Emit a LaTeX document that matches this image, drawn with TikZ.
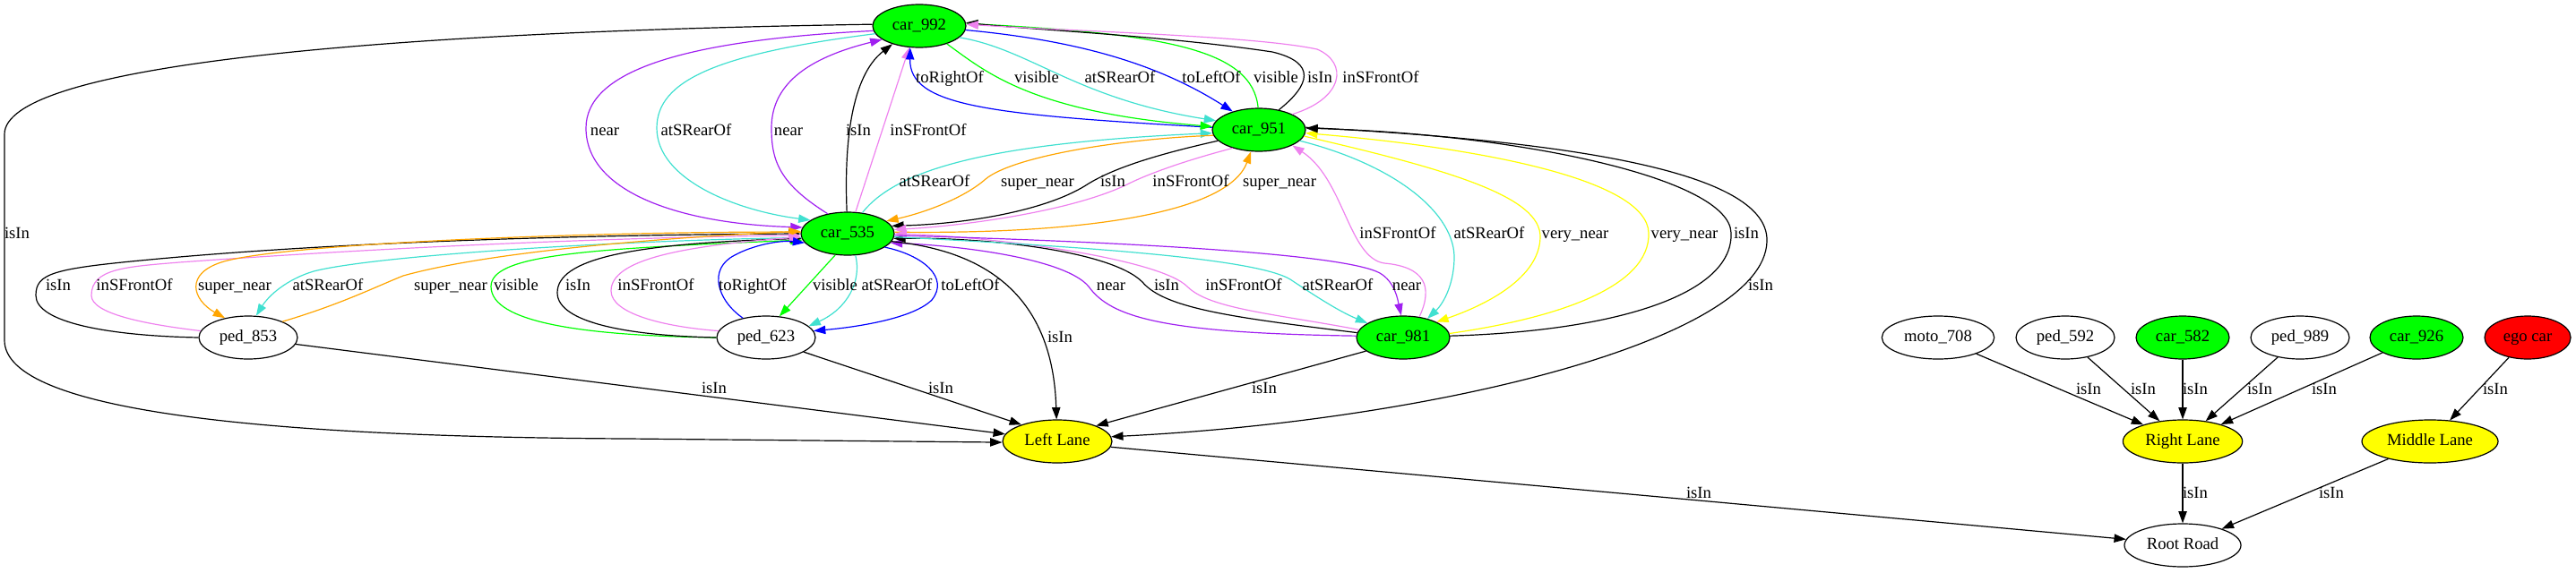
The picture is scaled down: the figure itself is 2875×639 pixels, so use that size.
\documentclass[tikz,border=0pt]{standalone}
\usepackage{fontspec}
\setmainfont{Liberation Serif}
\usetikzlibrary{arrows.meta,shapes.geometric}
\definecolor{gvpurple}{HTML}{A020F0}
\definecolor{gvturq}{HTML}{40E0D0}
\definecolor{gvviolet}{HTML}{EE82EE}
\definecolor{gvorange}{HTML}{FFA500}
\definecolor{gvblue}{HTML}{0000FF}
\definecolor{gvgreen}{HTML}{00FF00}
\definecolor{gvyellow}{HTML}{FFFF00}
\definecolor{gvred}{HTML}{FF0000}
\begin{document}
\begin{tikzpicture}[x=0.75pt,y=-0.75pt,
  nd/.style={ellipse,draw=black,line width=0.9pt,minimum height=36pt,inner sep=0pt,
    font=\fontsize{14}{16}\selectfont,text height=7pt,text depth=0pt},
  e/.style={line width=0.9pt,-{Triangle[length=10pt,width=7pt]}},
  lb/.style={inner sep=0pt,font=\fontsize{14}{16}\selectfont,text height=9pt,text depth=0pt},
  cp/.style={color=gvpurple},
  ct/.style={color=gvturq},
  cv/.style={color=gvviolet},
  co/.style={color=gvorange},
  cb/.style={color=gvblue},
  cg/.style={color=gvgreen},
  cy/.style={color=gvyellow},
  ck/.style={color=black}]
\useasboundingbox (0,0) rectangle (2875,639);

% nodes
\node[nd,fill=gvgreen,minimum width=78pt] (car992) at (1026,29) {car\_992};
\node[nd,fill=gvgreen,minimum width=78pt] (car951) at (1405,145) {car\_951};
\node[nd,fill=gvgreen,minimum width=78pt] (car535) at (946,261) {car\_535};
\node[nd,minimum width=82.5pt] (ped853) at (277,377) {ped\_853};
\node[nd,minimum width=82.5pt] (ped623) at (855,377) {ped\_623};
\node[nd,fill=gvgreen,minimum width=78pt] (car981) at (1566,377) {car\_981};
\node[nd,fill=gvyellow,minimum width=91.5pt] (leftlane) at (1180,493) {Left Lane};
\node[nd,minimum width=94pt] (moto708) at (2163,377) {moto\_708};
\node[nd,minimum width=82.5pt] (ped592) at (2305,377) {ped\_592};
\node[nd,fill=gvgreen,minimum width=78pt] (car582) at (2436,377) {car\_582};
\node[nd,minimum width=82.5pt] (ped989) at (2567,377) {ped\_989};
\node[nd,fill=gvgreen,minimum width=78pt] (car926) at (2697,377) {car\_926};
\node[nd,fill=gvred,minimum width=72pt] (egocar) at (2821,377) {ego car};
\node[nd,fill=gvyellow,minimum width=100pt] (rightlane) at (2436,493) {Right Lane};
\node[nd,fill=gvyellow,minimum width=114pt] (middlelane) at (2712,493) {Middle Lane};
\node[nd,minimum width=97.5pt] (rootroad) at (2436,609) {Root Road};

% big loop
\draw[e,ck] (car992.178) .. controls (400,36) and (5,75) .. (5,150) -- (5,380) .. controls (5,460) and (300,488) .. (700,490) -- (leftlane.181);

% car992 <-> car535
\draw[e,cp] (car992.186) .. controls (760,45) and (654,80) .. (654,143) .. controls (654,215) and (760,250) .. (car535.172);
\draw[e,ct] (car992.190) .. controls (800,60) and (733,90) .. (733,143) .. controls (733,200) and (820,235) .. (car535.160);
\draw[e,cp] (car535.135) .. controls (870,205) and (861,180) .. (861,143) .. controls (861,95) and (900,65) .. (car992.200);
\draw[e,ck] (car535.92) .. controls (942,160) and (950,85) .. (car992.214);
\draw[e,cv] (car535.70) -- (car992.245);

% car992 <-> car951
\draw[e,cb] (car951.177) .. controls (1100,128) and (1015,118) .. (car992.247);
\draw[e,cg] (car992.327) .. controls (1100,80) and (1150,125) .. (car951.176);
\draw[e,cb] (car992.355) .. controls (1200,45) and (1290,70) .. (car951.145);
\draw[e,cg] (car951.92) .. controls (1398,55) and (1300,38) .. (car992.3);
\draw[e,ck] (car951.45) .. controls (1462,95) and (1470,70) .. (1420,58) .. controls (1300,40) and (1150,33) .. (car992.4);
\draw[e,ct] (car992.344) .. controls (1150,55) and (1200,110) .. (car951.168);
\draw[e,cv] (car951.25) .. controls (1500,110) and (1505,70) .. (1470,55) .. controls (1400,40) and (1200,35) .. (car992.2);

% car951 <-> car535
\draw[e,ct] (car535.55) .. controls (1000,190) and (1100,160) .. (car951.184);
\draw[e,co] (car951.187) .. controls (1250,155) and (1130,175) .. (1100,200) .. controls (1075,222) and (1030,238) .. (car535.18);
\draw[e,ck] (car951.195) .. controls (1280,175) and (1240,190) .. (1215,205) .. controls (1170,235) and (1080,250) .. (car535.10);
\draw[e,cv] (car951.215) .. controls (1320,180) and (1280,195) .. (1260,205) .. controls (1200,235) and (1080,252) .. (car535.5);
\draw[e,co] (car535.2) .. controls (1200,262) and (1370,240) .. (car951.250);

% car951 <-> car981
\draw[e,cv] (car981.52) .. controls (1600,320) and (1590,298) .. (1545,294) .. controls (1505,288) and (1500,200) .. (car951.335);
\draw[e,ct] (car951.345) .. controls (1560,185) and (1625,240) .. (1623,290) .. controls (1622,320) and (1610,340) .. (car981.38);
\draw[e,cy] (car951.352) .. controls (1620,190) and (1720,220) .. (1719,265) .. controls (1718,310) and (1660,340) .. (car981.25);
\draw[e,cy] (car981.5) .. controls (1740,355) and (1842,320) .. (1840,260) .. controls (1838,200) and (1650,165) .. (car951.356);
\draw[e,ck] (car981.2) .. controls (1800,370) and (1935,330) .. (1932,260) .. controls (1930,200) and (1700,150) .. (car951.2);
\draw[e,ck] (car951.3) .. controls (1800,160) and (1975,200) .. (1972,270) .. controls (1968,380) and (1600,470) .. (leftlane.5);

% car535 <-> car981
\draw[e,cp] (car981.178) .. controls (1300,372) and (1240,355) .. (1215,320) .. controls (1190,290) and (1080,275) .. (car535.348);
\draw[e,ck] (car981.174) .. controls (1380,355) and (1300,345) .. (1275,315) .. controls (1240,280) and (1100,265) .. (car535.354);
\draw[e,cv] (car981.170) .. controls (1420,350) and (1350,345) .. (1325,320) .. controls (1295,290) and (1120,265) .. (car535.0);
\draw[e,ct] (car535.356) .. controls (1200,275) and (1400,288) .. (1440,312) .. controls (1470,332) and (1495,348) .. (car981.158);
\draw[e,cp] (car535.358) .. controls (1250,270) and (1500,283) .. (1540,305) .. controls (1557,315) and (1560,335) .. (car981.95);

% ped853 <-> car535
\draw[e,ck] (ped853.180) .. controls (120,375) and (40,360) .. (40,330) .. controls (40,305) and (60,300) .. (167,290) .. controls (400,268) and (700,262) .. (car535.180);
\draw[e,cv] (ped853.172) .. controls (160,362) and (102,350) .. (102,330) .. controls (102,300) and (140,298) .. (200,293) .. controls (450,275) and (700,265) .. (car535.182);
\draw[e,co] (car535.178) .. controls (700,258) and (330,270) .. (250,292) .. controls (205,305) and (215,335) .. (ped853.140);
\draw[e,ct] (car535.185) .. controls (700,268) and (420,285) .. (350,303) .. controls (320,312) and (300,330) .. (ped853.70);
\draw[e,co] (ped853.25) .. controls (380,340) and (420,320) .. (450,308) .. controls (550,280) and (750,265) .. (car535.177);

% ped623 <-> car535
\draw[e,cg] (ped623.180) .. controls (650,375) and (548,360) .. (548,320) .. controls (548,285) and (650,278) .. (car535.188);
\draw[e,ck] (ped623.180) .. controls (700,375) and (622,360) .. (622,327) .. controls (622,290) and (700,272) .. (car535.186);
\draw[e,cv] (ped623.172) .. controls (740,365) and (682,350) .. (682,325) .. controls (682,290) and (760,275) .. (car535.184);
\draw[e,cb] (ped623.140) .. controls (800,335) and (790,300) .. (820,285) .. controls (840,274) and (870,268) .. (car535.192);
\draw[e,cg] (car535.240) -- (ped623.58);
\draw[e,ct] (car535.290) .. controls (962,315) and (945,345) .. (ped623.15);
\draw[e,cb] (car535.340) .. controls (1030,285) and (1060,310) .. (1040,335) .. controls (1020,355) and (960,365) .. (ped623.8);

% to Left Lane
\draw[e,ck] (car535.350) .. controls (1100,280) and (1175,330) .. (leftlane.92);
\draw[e,ck] (ped853.352) -- (leftlane.172);
\draw[e,ck] (ped623.339) -- (leftlane.155);
\draw[e,ck] (car981.200) -- (leftlane.22);
\draw[e,ck] (leftlane.354) -- (rootroad.174);

% right cluster
\draw[e,ck] (moto708) -- (rightlane);
\draw[e,ck] (ped592) -- (rightlane);
\draw[e,ck] (car582) -- (rightlane);
\draw[e,ck] (ped989) -- (rightlane);
\draw[e,ck] (car926) -- (rightlane);
\draw[e,ck] (egocar) -- (middlelane);
\draw[e,ck] (rightlane) -- (rootroad);
\draw[e,ck] (middlelane) -- (rootroad);

% labels
\node[lb] (l1) at (1060,86) {toRightOf};
\node[lb] (l2) at (1157,86) {visible};
\node[lb] (l3) at (1250,86) {atSRearOf};
\node[lb] (l4) at (1352,86) {toLeftOf};
\node[lb] (l5) at (1424,86) {visible};
\node[lb] (l6) at (1473,86) {isIn};
\node[lb] (l7) at (1541,86) {inSFrontOf};

\node[lb] (l8) at (675,145) {near};
\node[lb] (l9) at (777,145) {atSRearOf};
\node[lb] (l10) at (880,145) {near};
\node[lb] (l11) at (958,145) {isIn};
\node[lb] (l12) at (1036,145) {inSFrontOf};

\node[lb] (l13) at (1043,202) {atSRearOf};
\node[lb] (l14) at (1158,202) {super\_near};
\node[lb] (l15) at (1242,202) {isIn};
\node[lb] (l16) at (1329,202) {inSFrontOf};
\node[lb] (l17) at (1428,202) {super\_near};

\node[lb] (l18) at (19,260) {isIn};
\node[lb] (l19) at (1560,260) {inSFrontOf};
\node[lb] (l20) at (1662,260) {atSRearOf};
\node[lb] (l21) at (1758,260) {very\_near};
\node[lb] (l22) at (1880,260) {very\_near};
\node[lb] (l23) at (1949,260) {isIn};

\node[lb] (l24) at (65,318) {isIn};
\node[lb] (l25) at (150,318) {inSFrontOf};
\node[lb] (l26) at (262,318) {super\_near};
\node[lb] (l27) at (366,318) {atSRearOf};
\node[lb] (l28) at (503,318) {super\_near};
\node[lb] (l29) at (576,318) {visible};
\node[lb] (l30) at (645,318) {isIn};
\node[lb] (l31) at (732,318) {inSFrontOf};
\node[lb] (l32) at (840,318) {toRightOf};
\node[lb] (l33) at (932,318) {visible};
\node[lb] (l34) at (1001,318) {atSRearOf};
\node[lb] (l35) at (1083,318) {toLeftOf};
\node[lb] (l36) at (1240,318) {near};
\node[lb] (l37) at (1302,318) {isIn};
\node[lb] (l38) at (1388,318) {inSFrontOf};
\node[lb] (l39) at (1493,318) {atSRearOf};
\node[lb] (l40) at (1570,318) {near};
\node[lb] (l41) at (1965,318) {isIn};

\node[lb] (l42) at (1183,376) {isIn};
\node[lb] (l43) at (797,433) {isIn};
\node[lb] (l44) at (1050,433) {isIn};
\node[lb] (l45) at (1411,433) {isIn};
\node[lb] (l46) at (2331,434) {isIn};
\node[lb] (l47) at (2392,434) {isIn};
\node[lb] (l48) at (2450,434) {isIn};
\node[lb] (l49) at (2522,434) {isIn};
\node[lb] (l50) at (2594,434) {isIn};
\node[lb] (l51) at (2785,434) {isIn};
\node[lb] (l52) at (1896,550) {isIn};
\node[lb] (l53) at (2450,550) {isIn};
\node[lb] (l54) at (2602,550) {isIn};
\end{tikzpicture}
\end{document}
